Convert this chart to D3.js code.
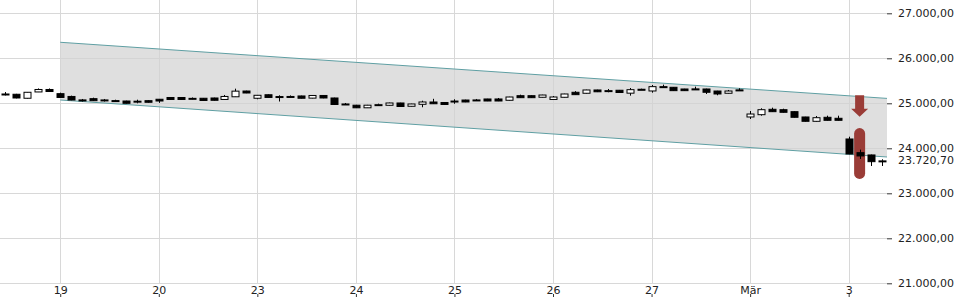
<!DOCTYPE html>
<html>
<head>
<meta charset="utf-8">
<script src="https://cdn.jsdelivr.net/npm/d3@7"></script>
<style>
  body { margin: 0; background: #fff; }
  .axis text { font-family: "DejaVu Sans", sans-serif; font-size: 11px; fill: #222; }
  .axis line { stroke: #333; }
  .axis .domain { display: none; }
  .grid line { stroke: #d8d8d8; stroke-width: 1; }
</style>
</head>
<body>
<div id="chart"></div>
<script>
// hourly candles: open, high, low, close
var candles = [
  [25200, 25250, 25175, 25207], [25201, 25210, 25110, 25118], [25112, 25250, 25105, 25245],
  [25252, 25330, 25250, 25307], [25307, 25330, 25258, 25262],
  [25214, 25236, 25125, 25130], [25152, 25170, 25068, 25073], [25075, 25096, 25040, 25068],
  [25103, 25125, 25052, 25058], [25070, 25096, 25040, 25075], [25060, 25080, 25036, 25055],
  [25051, 25058, 24995, 25000], [25042, 25080, 25000, 25047], [25058, 25065, 25018, 25023],
  [25090, 25096, 25010, 25051], [25129, 25140, 25080, 25085], [25129, 25140, 25080, 25085],
  [25105, 25129, 25085, 25110], [25112, 25118, 25058, 25063], [25118, 25125, 25062, 25067],
  [25085, 25185, 25080, 25152], [25145, 25325, 25140, 25270], [25273, 25280, 25225, 25229],
  [25112, 25185, 25090, 25178], [25190, 25196, 25125, 25130], [25150, 25178, 25040, 25148],
  [25152, 25175, 25125, 25148], [25163, 25170, 25108, 25112], [25115, 25180, 25110, 25174],
  [25174, 25180, 25112, 25118], [25118, 25125, 24968, 24974], [24985, 25007, 24962, 24980],
  [24958, 24965, 24895, 24900], [24900, 24965, 24895, 24958], [24965, 24992, 24948, 24970],
  [24956, 25015, 24950, 25007], [25007, 25012, 24925, 24929], [24934, 24990, 24930, 24985],
  [24978, 25058, 24912, 25029], [25029, 25100, 24985, 24990], [25018, 25025, 24968, 24974],
  [25045, 25090, 24990, 25050], [25073, 25080, 25025, 25029], [25070, 25096, 25051, 25075],
  [25096, 25100, 25048, 25051], [25096, 25118, 25048, 25051], [25067, 25145, 25062, 25140],
  [25169, 25192, 25120, 25125], [25169, 25175, 25120, 25125], [25134, 25190, 25130, 25184],
  [25085, 25162, 25080, 25140], [25134, 25212, 25130, 25207], [25245, 25270, 25188, 25192],
  [25223, 25302, 25218, 25296], [25296, 25302, 25250, 25256], [25280, 25318, 25245, 25282],
  [25290, 25296, 25236, 25240], [25225, 25340, 25170, 25303], [25312, 25325, 25300, 25310],
  [25274, 25407, 25236, 25370], [25370, 25414, 25362, 25368], [25356, 25362, 25276, 25281],
  [25318, 25322, 25276, 25281], [25320, 25370, 25296, 25318], [25318, 25325, 25207, 25245],
  [25273, 25278, 25178, 25207], [25223, 25296, 25218, 25273], [25298, 25334, 25280, 25296],
  [24696, 24829, 24651, 24762], [24747, 24889, 24725, 24858], [24867, 24903, 24808, 24814],
  [24858, 24880, 24795, 24800], [24814, 24820, 24685, 24689], [24696, 24700, 24595, 24600],
  [24600, 24718, 24595, 24680], [24689, 24725, 24618, 24622], [24667, 24725, 24618, 24622],
  [24207, 24258, 23868, 23874], [23903, 23970, 23763, 23830], [23852, 23860, 23607, 23703],
  [23715, 23756, 23607, 23720.7]
];

var dayLabels = ['19', '20', '23', '24', '25', '26', '27', 'Mär', '3'];
var dayStarts = [5, 14, 23, 32, 41, 50, 59, 68, 77];
var priceTicks = [21000, 22000, 23000, 24000, 25000, 26000, 27000];
var lastPrice = 23720.70;

// trend channel, candle index -> upper/lower value
var channel = [
  { i: 5, upper: 26356, lower: 25073 },
  { i: 80.5, upper: 25109, lower: 23807 }
];

// sell signal at candle 78
var signal = { i: 78, arrowTop: 25180, arrowBottom: 24700, barTop: 24450, barBottom: 23320 };

var width = 960;
var height = 300;
var plotRight = 887;

var de = d3.formatLocale({ decimal: ',', thousands: '.', grouping: [3], currency: ['', '€'] });
var fmt = de.format(',.2f');

var x = d3.scaleLinear().domain([-0.5, candles.length - 0.5]).range([0, plotRight]);
var y = d3.scaleLinear().domain([21000, 27000]).range([283.3, 13.3]);

var svg = d3.select('#chart').append('svg')
  .attr('width', width)
  .attr('height', height);

// grid
var grid = svg.append('g').attr('class', 'grid');
grid.selectAll('.h').data(priceTicks).enter().append('line')
  .attr('x1', 0).attr('x2', plotRight)
  .attr('y1', function(d) { return Math.round(y(d)) + 0.5; })
  .attr('y2', function(d) { return Math.round(y(d)) + 0.5; });
grid.selectAll('.v').data(dayStarts).enter().append('line')
  .attr('y1', 0).attr('y2', 283)
  .attr('x1', function(d) { return Math.round(x(d)) + 0.5; })
  .attr('x2', function(d) { return Math.round(x(d)) + 0.5; });

// channel
var area = d3.area()
  .x(function(d) { return x(d.i); })
  .y0(function(d) { return y(d.lower); })
  .y1(function(d) { return y(d.upper); });
svg.append('path').datum(channel)
  .attr('d', area)
  .attr('fill', '#d2d2d2')
  .attr('fill-opacity', 0.72);
['upper', 'lower'].forEach(function(k) {
  svg.append('path').datum(channel)
    .attr('d', d3.line().x(function(d) { return x(d.i); }).y(function(d) { return y(d[k]); }))
    .attr('fill', 'none')
    .attr('stroke', '#5f9fa3')
    .attr('stroke-width', 1);
});

// signal
var sx = x(signal.i);
var shaft = 4.5, head = 8.5;
var ya = y(signal.arrowTop), yb = y(signal.arrowBottom), yh = yb - 8;
svg.append('path')
  .attr('d', 'M' + (sx - shaft) + ',' + ya + 'H' + (sx + shaft) + 'V' + yh +
    'H' + (sx + head) + 'L' + sx + ',' + yb + 'L' + (sx - head) + ',' + yh +
    'H' + (sx - shaft) + 'Z')
  .attr('fill', '#9a3c37');
svg.append('rect')
  .attr('x', sx - 5.5).attr('width', 11)
  .attr('y', y(signal.barTop))
  .attr('height', y(signal.barBottom) - y(signal.barTop))
  .attr('rx', 5.5)
  .attr('fill', '#9a3c37');

// candles
var bodyW = 7;
var c = svg.append('g').selectAll('g').data(candles).enter().append('g');
c.append('line')
  .attr('x1', function(d, i) { return Math.round(x(i)) + 0.5; })
  .attr('x2', function(d, i) { return Math.round(x(i)) + 0.5; })
  .attr('y1', function(d) { return y(d[1]); })
  .attr('y2', function(d) { return y(d[2]); })
  .attr('stroke', '#000');
c.append('rect')
  .attr('x', function(d, i) { return Math.round(x(i)) + 0.5 - bodyW / 2; })
  .attr('width', bodyW)
  .attr('y', function(d) { return y(Math.max(d[0], d[3])); })
  .attr('height', function(d) { return Math.max(1, Math.abs(y(d[0]) - y(d[3]))); })
  .attr('fill', function(d) { return d[3] < d[0] ? '#000' : '#fff'; })
  .attr('stroke', '#000')
  .attr('stroke-width', 1);

// right axis
var yAxis = d3.axisRight(y).tickValues(priceTicks).tickSize(5).tickPadding(6).tickFormat(fmt);
svg.append('g').attr('class', 'axis')
  .attr('transform', 'translate(' + plotRight + ',0)')
  .call(yAxis);
svg.append('g').attr('class', 'axis')
  .append('text')
  .attr('x', plotRight + 11)
  .attr('y', y(lastPrice))
  .attr('dy', '0.32em')
  .text(fmt(lastPrice));

// bottom axis
var xAxis = d3.axisBottom(x).tickValues(dayStarts).tickSize(0).tickPadding(3)
  .tickFormat(function(d, i) { return dayLabels[i]; });
svg.append('g').attr('class', 'axis')
  .attr('transform', 'translate(0,283)')
  .call(xAxis);
var xTicks = d3.axisBottom(x).tickValues(dayStarts).tickSize(3).tickFormat('');
svg.append('g').attr('class', 'axis')
  .attr('transform', 'translate(0,294)')
  .call(xTicks);
</script>
</body>
</html>
